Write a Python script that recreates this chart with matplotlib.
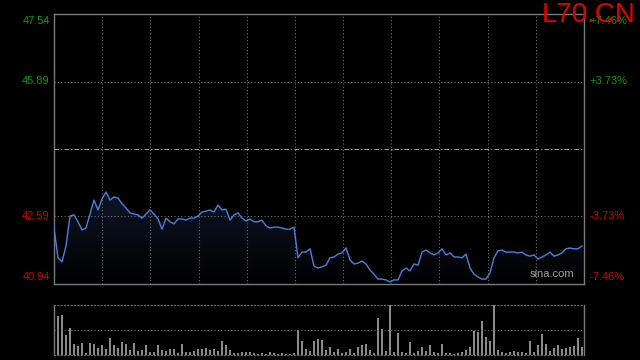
import numpy as np
import matplotlib
matplotlib.use("Agg")
import matplotlib.pyplot as plt

# ---- data ----
prices = [42.31, 41.58, 41.48, 41.87, 42.60, 42.63, 42.46, 42.26, 42.31, 42.65,
          42.99, 42.75, 43.02, 43.19, 42.99, 43.07, 43.04, 42.90, 42.80, 42.68,
          42.65, 42.63, 42.55, 42.65, 42.75, 42.65, 42.53, 42.28, 42.55, 42.46,
          42.41, 42.53, 42.53, 42.50, 42.55, 42.55, 42.60, 42.70, 42.72, 42.75,
          42.70, 42.87, 42.75, 42.77, 42.50, 42.63, 42.68, 42.55, 42.48, 42.53,
          42.46, 42.46, 42.50, 42.36, 42.31, 42.33, 42.33, 42.31, 42.28, 42.28,
          42.33, 41.58, 41.72, 41.72, 41.80, 41.38, 41.33, 41.36, 41.40, 41.58,
          41.60, 41.67, 41.70, 41.82, 41.53, 41.43, 41.45, 41.50, 41.43, 41.28,
          41.18, 41.06, 41.06, 41.04, 40.99, 41.04, 41.04, 41.26, 41.33, 41.26,
          41.43, 41.40, 41.72, 41.77, 41.70, 41.65, 41.70, 41.80, 41.65, 41.70,
          41.60, 41.60, 41.58, 41.67, 41.33, 41.18, 41.11, 41.06, 41.06, 41.21,
          41.58, 41.75, 41.77, 41.72, 41.72, 41.72, 41.70, 41.72, 41.65, 41.62,
          41.65, 41.55, 41.60, 41.65, 41.72, 41.62, 41.65, 41.70, 41.80, 41.82,
          41.80, 41.80, 41.87]

volumes = [0.39, 0.78, 0.81, 0.41, 0.55, 0.23, 0.18, 0.25, 0.05, 0.25,
           0.22, 0.15, 0.20, 0.12, 0.35, 0.20, 0.15, 0.27, 0.22, 0.10,
           0.25, 0.08, 0.10, 0.20, 0.07, 0.06, 0.20, 0.10, 0.08, 0.12,
           0.12, 0.05, 0.22, 0.06, 0.07, 0.08, 0.13, 0.12, 0.15, 0.10,
           0.12, 0.08, 0.29, 0.20, 0.10, 0.05, 0.05, 0.06, 0.07, 0.07,
           0.04, 0.03, 0.04, 0.03, 0.06, 0.04, 0.03, 0.04, 0.03, 0.02,
           0.04, 0.50, 0.28, 0.12, 0.08, 0.28, 0.33, 0.30, 0.10, 0.17,
           0.06, 0.12, 0.05, 0.06, 0.12, 0.05, 0.17, 0.20, 0.23, 0.10,
           0.05, 0.75, 0.53, 0.08, 1.00, 0.06, 0.45, 0.06, 0.05, 0.27,
           0.05, 0.08, 0.17, 0.08, 0.20, 0.06, 0.05, 0.22, 0.04, 0.05,
           0.03, 0.04, 0.07, 0.10, 0.17, 0.49, 0.47, 0.68, 0.37, 0.28,
           1.00, 0.10, 0.06, 0.05, 0.06, 0.08, 0.07, 0.06, 0.05, 0.28,
           0.06, 0.20, 0.42, 0.23, 0.08, 0.15, 0.20, 0.12, 0.14, 0.16,
           0.18, 0.35, 0.17]

prev_close = 44.24
left_ticks = [47.54, 45.89, 42.59, 40.94]
left_labels = ["47.54", "45.89", "42.59", "40.94"]
right_labels = ["+7.46%", "+3.73%", "-3.73%", "-7.46%"]
title = "L70.CN"
watermark = "sina.com"

# ---- style ----
BG = "#000000"
GRID = "#6e6e6e"
BORDER = "#7a7a7a"
GREEN = "#0a9a0a"
RED = "#d00000"
LINE = "#4a80dc"
FONT = ["Liberation Sans", "DejaVu Sans"]

fig = plt.figure(figsize=(6.4, 3.6), dpi=100, facecolor=BG)
W, H = 640.0, 360.0
ax = fig.add_axes([54 / W, (H - 284) / H, 530 / W, 270 / H], facecolor=BG)
axv = fig.add_axes([54 / W, (H - 355) / H, 530 / W, 50 / H], facecolor=BG)

x = np.arange(len(prices))
xmax = len(prices) - 0.5
ymin, ymax = 40.94, 47.54

# gradient fill below line
grad = np.linspace(1, 0, 256).reshape(-1, 1)
from matplotlib.colors import LinearSegmentedColormap
cmap = LinearSegmentedColormap.from_list("g", ["#000000", "#0d1526"])
im = ax.imshow(grad, extent=[0, xmax, ymin, max(prices)], aspect="auto",
               cmap=cmap, origin="upper", zorder=1)
poly = ax.fill_between(x, prices, ymin, color="none", zorder=0)
im.set_clip_path(poly.get_paths()[0], transform=ax.transData)

ax.plot(x, prices, color=LINE, lw=1.0, zorder=3)

ax.set_xlim(0, xmax)
ax.set_ylim(ymin, ymax)

for gx in np.linspace(0, xmax, 12)[1:-1]:
    ax.axvline(gx, color=GRID, lw=0.8, ls=(0, (1, 2)), zorder=2)
for gy in [45.89, 42.59]:
    ax.axhline(gy, color=GRID, lw=0.8, ls=(0, (1, 2)), zorder=2)
ax.axhline(prev_close, color="#9a9a9a", lw=0.8, ls=(0, (4, 2, 1, 2)), zorder=2)

ax.set_xticks([])
ax.set_yticks([])
for s in ax.spines.values():
    s.set_color(BORDER)
    s.set_linewidth(1.0)

# labels
colors = [GREEN, GREEN, RED, RED]
vas = ["top", "center", "center", "bottom"]
offs = [-1.5, 0, 0, 1.5]
for val, ll, rl, c, va, o in zip(left_ticks, left_labels, right_labels, colors, vas, offs):
    ax.annotate(ll, xy=(0, val), xycoords=("axes fraction", "data"),
                xytext=(-3, o), textcoords="offset points", ha="right", va=va,
                color=c, fontsize=8, family=FONT)
    ax.annotate(rl, xy=(1, val), xycoords=("axes fraction", "data"),
                xytext=(4, o), textcoords="offset points", ha="left", va=va,
                color=c, fontsize=8, family=FONT)

ax.text(0.982, 0.02, watermark, transform=ax.transAxes, ha="right", va="bottom",
        color="#a0a0a0", fontsize=8, family=FONT, zorder=4)
fig.text(636 / W, 1 - 2 / H, title, ha="right", va="top", color="#e00000",
         fontsize=20, family=FONT)

# volume
axv.bar(x, volumes, width=0.3, color="#8a8a8a", align="center")
axv.set_xlim(0, xmax)
axv.set_ylim(0, 1.0)
axv.set_xticks([])
axv.set_yticks([])
axv.axhline(0.5, color=GRID, lw=0.8, ls=(0, (1, 2)))
for k in ["top", "bottom"]:
    axv.spines[k].set_color(GRID)
    axv.spines[k].set_linestyle((0, (1, 2)))
    axv.spines[k].set_linewidth(0.8)
for k in ["left", "right"]:
    axv.spines[k].set_color(BORDER)
    axv.spines[k].set_linewidth(1.0)

fig.savefig("out.png", dpi=100, facecolor=BG)
